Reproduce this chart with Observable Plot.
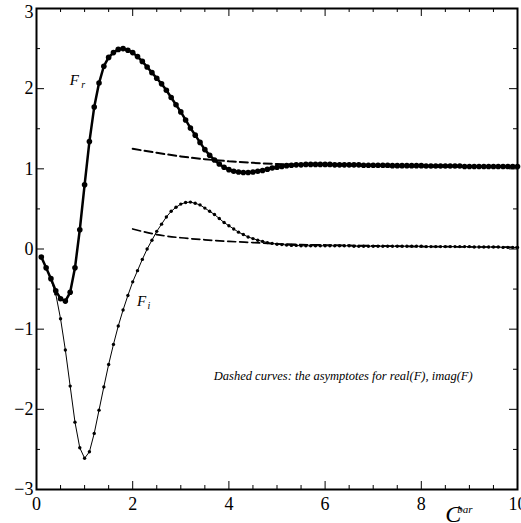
<!DOCTYPE html>
<html><head><meta charset="utf-8">
<script src="https://cdn.jsdelivr.net/npm/d3@7"></script>
<script src="https://cdn.jsdelivr.net/npm/@observablehq/plot@0.6"></script>
<style>html,body{margin:0;padding:0;background:#fff} svg{display:block}</style>
</head><body><div id="chart"></div>
<script>
// C-bar sample positions
const cBar = [0.1,0.2,0.3,0.4,0.5,0.6,0.7,0.8,0.9,1.0,
  1.1,1.2,1.3,1.4,1.5,1.6,1.7,1.8,1.9,2.0,
  2.1,2.2,2.3,2.4,2.5,2.6,2.7,2.8,2.9,3.0,
  3.1,3.2,3.3,3.4,3.5,3.6,3.7,3.8,3.9,4.0,
  4.1,4.2,4.3,4.4,4.5,4.6,4.7,4.8,4.9,5.0,
  5.1,5.2,5.3,5.4,5.5,5.6,5.7,5.8,5.9,6.0,
  6.1,6.2,6.3,6.4,6.5,6.6,6.7,6.8,6.9,7.0,
  7.1,7.2,7.3,7.4,7.5,7.6,7.7,7.8,7.9,8.0,
  8.1,8.2,8.3,8.4,8.5,8.6,8.7,8.8,8.9,9.0,
  9.1,9.2,9.3,9.4,9.5,9.6,9.7,9.8,9.9,10.0];
// real part F_r
const fReal = [-0.10,-0.235,-0.37,-0.52,-0.62,-0.65,-0.54,-0.235,0.24,0.80,
  1.34,1.77,2.07,2.28,2.39,2.45,2.49,2.50,2.48,2.45,
  2.40,2.34,2.27,2.20,2.13,2.06,1.98,1.89,1.80,1.71,
  1.61,1.51,1.42,1.33,1.24,1.17,1.11,1.06,1.02,0.99,
  0.97,0.96,0.955,0.955,0.96,0.97,0.98,0.995,1.01,1.02,
  1.03,1.04,1.045,1.05,1.05,1.055,1.055,1.055,1.055,1.055,
  1.055,1.05,1.05,1.05,1.05,1.05,1.05,1.045,1.045,1.045,
  1.045,1.045,1.045,1.04,1.04,1.04,1.04,1.04,1.04,1.04,
  1.035,1.035,1.035,1.035,1.035,1.035,1.035,1.035,1.03,1.03,
  1.03,1.03,1.03,1.03,1.03,1.03,1.03,1.03,1.03,1.03];
// imaginary part F_i
const fImag = [-0.10,-0.235,-0.38,-0.56,-0.87,-1.26,-1.71,-2.16,-2.48,-2.61,
  -2.53,-2.30,-2.01,-1.72,-1.44,-1.19,-0.96,-0.76,-0.58,-0.41,
  -0.27,-0.13,0.00,0.11,0.22,0.31,0.40,0.47,0.52,0.56,
  0.58,0.585,0.57,0.55,0.51,0.47,0.43,0.38,0.33,0.29,
  0.25,0.21,0.18,0.15,0.13,0.11,0.095,0.08,0.07,0.06,
  0.055,0.05,0.045,0.045,0.04,0.04,0.04,0.04,0.04,0.04,
  0.04,0.04,0.04,0.04,0.04,0.035,0.035,0.035,0.035,0.035,
  0.035,0.035,0.035,0.035,0.035,0.035,0.035,0.035,0.035,0.035,
  0.03,0.03,0.03,0.03,0.03,0.03,0.03,0.03,0.03,0.03,
  0.025,0.025,0.025,0.025,0.025,0.025,0.02,0.02,0.02,0.02];
// asymptotes (dashed)
const asymX = [2,2.5,3,3.5,4,4.5,5,5.5,6,6.5,7,7.5,8,8.5,9,9.5,10];
const asymReal = [1.25,1.20,1.155,1.12,1.095,1.075,1.06,1.05,1.045,1.04,1.035,1.03,1.03,1.025,1.025,1.02,1.02];
const asymImag = [0.25,0.18,0.14,0.115,0.095,0.08,0.065,0.055,0.05,0.045,0.04,0.035,0.03,0.03,0.025,0.025,0.02];
// ticks
const xMajor = [0,2,4,6,8,10];
const xMinor = [0.5,1,1.5,2.5,3,3.5,4.5,5,5.5,6.5,7,7.5,8.5,9,9.5];
const yMajor = [-3,-2,-1,0,1,2,3];
const yLabelsInner = [-3,-2,-1,0,1,2];
const yLabelTop = [3];
const yMinor = [-2.5,-1.5,-0.5,0.5,1.5,2.5];
const annotation = "Dashed curves: the asymptotes for real(F), imag(F)";

const W = 521, H = 523, ML = 36, MR = 4, MT = 8, MB = 34;
const innerW = W - ML - MR, innerH = H - MT - MB;
const serif = "Liberation Serif";
const fmt = d => (d < 0 ? "\u2212" + Math.abs(d) : String(d));

const realData = cBar.map((x, i) => ({x, y: fReal[i]}));
const imagData = cBar.map((x, i) => ({x, y: fImag[i]}));
const asymRealData = asymX.map((x, i) => ({x, y: asymReal[i]}));
const asymImagData = asymX.map((x, i) => ({x, y: asymImag[i]}));

const tickMarks = (vals, len) => [
  Plot.tickX(vals, {x: d => d, insetTop: innerH - len, stroke: "black", strokeWidth: 1}),
  Plot.tickX(vals, {x: d => d, insetBottom: innerH - len, stroke: "black", strokeWidth: 1}),
];
const tickMarksY = (vals, len) => [
  Plot.tickY(vals, {y: d => d, insetRight: innerW - len, stroke: "black", strokeWidth: 1}),
  Plot.tickY(vals, {y: d => d, insetLeft: innerW - len, stroke: "black", strokeWidth: 1}),
];

const chart = Plot.plot({
  width: W, height: H,
  marginLeft: ML, marginRight: MR, marginTop: MT, marginBottom: MB,
  style: {fontFamily: serif, background: "white", color: "black"},
  x: {domain: [0, 10], label: null},
  y: {domain: [-3, 3], label: null},
  marks: [
    ...tickMarks(xMajor, 8), ...tickMarks(xMinor, 4),
    ...tickMarksY(yMajor, 8), ...tickMarksY(yMinor, 4),
    Plot.axisX(xMajor, {tickSize: 0, tickPadding: 8, fontSize: 18, fontFamily: serif, tickFormat: fmt, label: null}),
    Plot.axisY(yLabelsInner, {tickSize: 0, tickPadding: 3, fontSize: 18, fontFamily: serif, tickFormat: fmt, label: null}),
    Plot.axisY(yLabelTop, {tickSize: 0, tickPadding: 3, dy: 4, fontSize: 18, fontFamily: serif, tickFormat: fmt, label: null}),
    Plot.line(imagData, {x: "x", y: "y", stroke: "black", strokeWidth: 1}),
    Plot.dot(imagData, {x: "x", y: "y", r: 1.7, fill: "black"}),
    Plot.line(realData, {x: "x", y: "y", stroke: "black", strokeWidth: 2.5}),
    Plot.dot(realData, {x: "x", y: "y", r: 2.8, fill: "black"}),
    Plot.line(asymRealData, {x: "x", y: "y", stroke: "black", strokeWidth: 2, strokeDasharray: "8,4", curve: "monotone-x"}),
    Plot.line(asymImagData, {x: "x", y: "y", stroke: "black", strokeWidth: 1.7, strokeDasharray: "8,4", curve: "monotone-x"}),
    Plot.text(["F"], {x: 0.69, y: 2.04, textAnchor: "start", lineAnchor: "bottom", fontSize: 15, fontStyle: "italic", fontFamily: serif}),
    Plot.text(["r"], {x: 0.69, y: 2.04, dx: 11.5, dy: 3, textAnchor: "start", lineAnchor: "bottom", fontSize: 10, fontStyle: "italic", fontFamily: serif}),
    Plot.text(["F"], {x: 2.09, y: -0.705, textAnchor: "start", lineAnchor: "bottom", fontSize: 15, fontStyle: "italic", fontFamily: serif}),
    Plot.text(["i"], {x: 2.09, y: -0.705, dx: 10.5, dy: 3, textAnchor: "start", lineAnchor: "bottom", fontSize: 10, fontStyle: "italic", fontFamily: serif}),
    Plot.text([annotation], {x: 3.686, y: -1.64, textAnchor: "start", lineAnchor: "bottom", fontSize: 12.5, fontStyle: "italic", fontFamily: serif}),
    Plot.text(["C"], {x: 8.50, frameAnchor: "bottom", dy: 32, textAnchor: "start", lineAnchor: "bottom", fontSize: 24, fontStyle: "italic", fontFamily: serif}),
    Plot.text(["bar"], {x: 8.745, frameAnchor: "bottom", dy: 23, textAnchor: "start", lineAnchor: "bottom", fontSize: 11, fontStyle: "italic", fontFamily: serif}),
    Plot.frame({stroke: "black", strokeWidth: 2})
  ]
});
document.getElementById("chart").appendChild(chart);
</script>
</body></html>
